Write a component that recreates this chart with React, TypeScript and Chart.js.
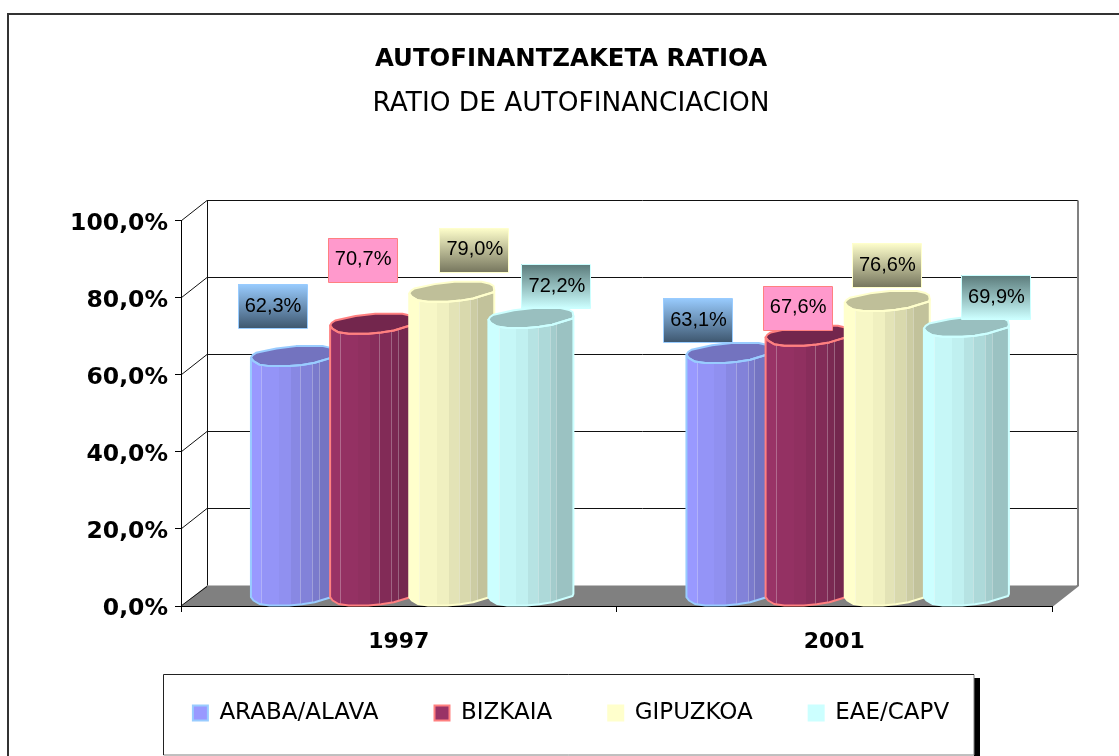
import React, { useEffect, useRef } from "react";
import { Chart, registerables } from "chart.js";

Chart.register(...registerables);

const years = ["1997", "2001"];
const araba = [62.3, 63.1];
const bizkaia = [70.7, 67.6];
const gipuzkoa = [79.0, 76.6];
const eae = [72.2, 69.9];
const seriesNames = ["ARABA/ALAVA", "BIZKAIA", "GIPUZKOA", "EAE/CAPV"];
const yTicks = [0, 20, 40, 60, 80, 100];

const FONT = "'DejaVu Sans', sans-serif";
const fillColors = [[153, 153, 255], [153, 51, 102], [255, 255, 204], [204, 255, 255]];
const edgeColors = ["#99CCFF", "#FF8080", "#FFFFCC", "#CCFFFF"];
const depthX = 26;
const depthY = 20.5;

const pct = (v: number) => v.toFixed(1).replace(".", ",") + "%";
const rgb = (c: number[], k: number) => `rgb(${Math.round(c[0] * k)},${Math.round(c[1] * k)},${Math.round(c[2] * k)})`;

// outline of the cylinder's slanted ellipse: fraction of width, pixel offset from its centre
const upperArc: [number, number][] = [
  [0, 1.7], [0.02, -1], [0.06, -3.3], [0.3, -7.7], [0.53, -10], [0.85, -10], [0.95, -8], [0.99, -6], [1, -1.7],
];
const lowerArc: [number, number][] = [
  [0.99, 0.5], [0.75, 6.7], [0.6, 8.8], [0.45, 10], [0.22, 10], [0.1, 8.5], [0.03, 5],
];
const facets: [number, number][] = [
  [0.12, 1], [0.33, 0.97], [0.47, 0.94], [0.58, 0.89], [0.72, 0.85], [0.8, 0.8], [1, 0.76],
];
const labelShift: [number, number][][] = [
  [[-8, -60], [-18, -43]],
  [[3, -74], [2.5, -38]],
  [[35.5, -52], [12.5, -46]],
  [[38.5, -42], [42.5, -39.5]],
];
const labelStops: [string, string][] = [
  ["#99CCFF", "#3F5870"],
  ["#FF99CC", "#FF99CC"],
  ["#FFFFCC", "#77775F"],
  ["#5A7A7A", "#CCFFFF"],
];

const scene = {
  id: "scene",
  afterLayout(chart: any) {
    // tick labels are clipped to their scale's box, so let the boxes reach past the text
    chart.scales.y.left = 40;
    chart.scales.x.bottom = 670;
  },
  beforeDraw(chart: any) {
    const { ctx, chartArea: a, scales } = chart;
    ctx.save();
    ctx.fillStyle = "#fff";
    ctx.fillRect(0, 0, chart.width, chart.height);
    // outer frame
    ctx.strokeStyle = "#333";
    ctx.lineWidth = 2;
    ctx.beginPath();
    ctx.moveTo(8, 756);
    ctx.lineTo(8, 14);
    ctx.lineTo(1119, 14);
    ctx.stroke();
    // legend frame
    ctx.fillStyle = "#000";
    ctx.fillRect(974, 678, 6, 78);
    ctx.fillStyle = "#fff";
    ctx.fillRect(163.5, 674.5, 810.5, 80.5);
    ctx.lineWidth = 1;
    ctx.strokeStyle = "#808080";
    ctx.beginPath();
    ctx.moveTo(163.5, 755);
    ctx.lineTo(974, 755);
    ctx.lineTo(974, 674.5);
    ctx.stroke();
    ctx.strokeStyle = "#222";
    ctx.beginPath();
    ctx.moveTo(163.5, 755);
    ctx.lineTo(163.5, 674.5);
    ctx.lineTo(974, 674.5);
    ctx.stroke();
    // floor
    const y0 = scales.y.getPixelForValue(0);
    ctx.fillStyle = "#808080";
    ctx.beginPath();
    ctx.moveTo(a.left, y0);
    ctx.lineTo(a.left + depthX, y0 - depthY);
    ctx.lineTo(a.right + depthX, y0 - depthY);
    ctx.lineTo(a.right, y0);
    ctx.closePath();
    ctx.fill();
    // walls
    ctx.strokeStyle = "#111";
    ctx.lineWidth = 1;
    yTicks.forEach((t) => {
      const y = scales.y.getPixelForValue(t);
      const back = Math.round(y - depthY) + 0.5;
      ctx.beginPath();
      ctx.moveTo(a.left, y);
      ctx.lineTo(a.left + depthX, back);
      if (t > 0) ctx.lineTo(a.right + depthX, back);
      ctx.stroke();
    });
    const top = scales.y.getPixelForValue(100) - depthY;
    ctx.beginPath();
    ctx.moveTo(a.left + depthX + 0.5, top);
    ctx.lineTo(a.left + depthX + 0.5, y0 - depthY);
    ctx.stroke();
    ctx.strokeStyle = "#808080";
    ctx.lineWidth = 2;
    ctx.beginPath();
    ctx.moveTo(a.right + depthX, top);
    ctx.lineTo(a.right + depthX, y0 - depthY);
    ctx.lineTo(a.right, y0);
    ctx.stroke();
    ctx.restore();
  },
  beforeDatasetsDraw(chart: any) {
    const { ctx } = chart;
    ctx.save();
    chart.data.datasets.forEach((_: any, d: number) => {
      chart.getDatasetMeta(d).data.forEach((el: any) => {
        const w = 85;
        const x0 = el.x - el.width / 2 + 10.5;
        const topY = el.y - 10;
        const baseY = el.base - 10;
        const col = fillColors[d];
        const grad = ctx.createLinearGradient(x0, 0, x0 + w, 0);
        let prev = 0;
        facets.forEach(([stop, k]) => {
          grad.addColorStop(prev, rgb(col, k));
          grad.addColorStop(stop, rgb(col, k));
          prev = stop;
        });
        const at = (list: [number, number][], cy: number) => list.map(([u, v]) => [x0 + u * w, cy + v]);
        const topUpper = at(upperArc, topY);
        const topLower = at(lowerArc, topY);
        const baseLower = at(lowerArc, baseY);
        const start = topUpper[0];
        const end = topUpper[topUpper.length - 1];
        const body = new Path2D();
        body.moveTo(start[0], start[1]);
        body.lineTo(start[0], baseY + upperArc[0][1]);
        [...baseLower].reverse().forEach((p) => body.lineTo(p[0], p[1]));
        body.lineTo(end[0], baseY + upperArc[upperArc.length - 1][1]);
        body.lineTo(end[0], end[1]);
        topLower.forEach((p) => body.lineTo(p[0], p[1]));
        body.closePath();
        ctx.fillStyle = grad;
        ctx.fill(body);
        // facet highlights
        ctx.save();
        ctx.clip(body);
        ctx.strokeStyle = "rgba(255,255,255,0.28)";
        ctx.lineWidth = 1;
        [0.12, 0.58, 0.72, 0.8].forEach((u) => {
          ctx.beginPath();
          ctx.moveTo(Math.round(x0 + u * w) + 0.5, topY);
          ctx.lineTo(Math.round(x0 + u * w) + 0.5, el.base);
          ctx.stroke();
        });
        ctx.restore();
        const cap = new Path2D();
        [...topUpper, ...topLower].forEach((p, i) => (i ? cap.lineTo(p[0], p[1]) : cap.moveTo(p[0], p[1])));
        cap.closePath();
        ctx.fillStyle = rgb(col, 0.75);
        ctx.fill(cap);
        ctx.lineJoin = "round";
        ctx.lineWidth = 2;
        ctx.strokeStyle = edgeColors[d];
        ctx.stroke(body);
        ctx.stroke(cap);
      });
    });
    // value labels
    chart.data.datasets.forEach((ds: any, d: number) => {
      chart.getDatasetMeta(d).data.forEach((el: any, i: number) => {
        const [sx, sy] = labelShift[d][i];
        const cx = el.x + sx;
        const cy = el.y + sy;
        const bw = 69;
        const bh = 44;
        const l = Math.round(cx - bw / 2);
        const t = Math.round(cy - bh / 2);
        const g = ctx.createLinearGradient(0, t, 0, t + bh);
        g.addColorStop(0, labelStops[d][0]);
        g.addColorStop(1, labelStops[d][1]);
        ctx.fillStyle = g;
        ctx.fillRect(l, t, bw, bh);
        ctx.lineWidth = 1;
        ctx.strokeStyle = edgeColors[d];
        ctx.strokeRect(l + 0.5, t + 0.5, bw, bh);
        ctx.fillStyle = "#000";
        ctx.font = "20px 'Liberation Sans', Arial, sans-serif";
        ctx.textAlign = "center";
        ctx.textBaseline = "middle";
        ctx.fillText(pct(ds.data[i]), cx + 1, cy);
      });
    });
    ctx.restore();
    return false;
  },
};

export default function App() {
  const ref = useRef<HTMLCanvasElement>(null);
  useEffect(() => {
    document.body.style.margin = "0";
    const values = [araba, bizkaia, gipuzkoa, eae];
    const chart = new Chart(ref.current as HTMLCanvasElement, {
      type: "bar",
      data: {
        labels: years,
        datasets: seriesNames.map((name, d) => ({
          label: name,
          data: values[d],
          backgroundColor: rgb(fillColors[d], 1),
          borderColor: edgeColors[d],
          borderWidth: 2,
          categoryPercentage: 0.727,
          barPercentage: 1,
        })),
      },
      options: {
        responsive: false,
        animation: false,
        layout: { padding: { left: 90, right: 67, top: 0, bottom: 21.5 } },
        plugins: {
          tooltip: { enabled: false },
          title: {
            display: true,
            text: "AUTOFINANTZAKETA RATIOA",
            color: "#000",
            font: { family: FONT, size: 24.4, weight: "bold", lineHeight: 1.2 },
            padding: { top: 45.5, bottom: 13.4 },
          },
          subtitle: {
            display: true,
            text: "RATIO DE AUTOFINANCIACION",
            color: "#000",
            font: { family: FONT, size: 26.4, weight: "normal", lineHeight: 1.2 },
            padding: { top: 0, bottom: 101.1 },
          },
          legend: {
            position: "bottom",
            labels: {
              color: "#000",
              font: { family: FONT, size: 23 },
              boxWidth: 15,
              boxHeight: 15,
              padding: 56,
            },
          },
        },
        scales: {
          x: {
            afterFit: (s: any) => { s.height = 39.5; },
            grid: { drawOnChartArea: false, drawTicks: true, tickLength: 6, color: "#000" },
            border: { color: "#000" },
            ticks: { color: "#000", padding: 17, font: { family: FONT, size: 22, weight: "bold" } },
          },
          y: {
            min: 0,
            max: 100,
            afterFit: (s: any) => { s.width = 91; },
            afterBuildTicks: (s: any) => { s.ticks = yTicks.map((value) => ({ value })); },
            grid: { drawOnChartArea: false, drawTicks: true, tickLength: 6, color: "#000" },
            border: { color: "#000" },
            ticks: {
              color: "#000",
              padding: 7,
              labelOffset: 3,
              font: { family: FONT, size: 23.5, weight: "bold" },
              callback: (v: any) => pct(Number(v)),
            },
          },
        },
      },
      plugins: [scene],
    } as any);
    return () => chart.destroy();
  }, []);
  return <canvas ref={ref} width={1119} height={756} style={{ display: "block" }} />;
}
